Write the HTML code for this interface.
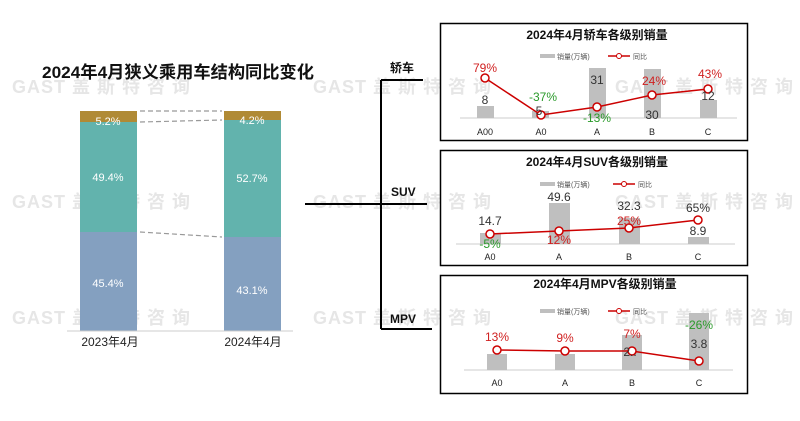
<!DOCTYPE html>
<html><head><meta charset="utf-8"><style>
html,body{margin:0;padding:0;background:#fff;width:800px;height:421px;overflow:hidden}
svg{display:block;font-family:"Liberation Sans","Noto Sans CJK SC",sans-serif}
.wm{fill:#e6e6e6;font-size:18px;font-weight:bold}
.t{font-weight:bold;fill:#111}
.ax{font-size:9px;fill:#222}
.v{font-size:12px;fill:#333}
.r{font-size:12px;fill:#d02020}
.g{font-size:12px;fill:#2a9a2a}
.lg{font-size:7px;fill:#555}
</style></head><body>
<svg width="800" height="421" viewBox="0 0 800 421">
<!-- watermarks -->
<g class="wm">
<text x="12" y="93" textLength="178" lengthAdjust="spacing">GAST 盖 斯 特 咨 询</text>
<text x="12" y="208" textLength="178" lengthAdjust="spacing">GAST 盖 斯 特 咨 询</text>
<text x="12" y="324" textLength="178" lengthAdjust="spacing">GAST 盖 斯 特 咨 询</text>
<text x="313" y="93" textLength="178" lengthAdjust="spacing">GAST 盖 斯 特 咨 询</text>
<text x="313" y="208" textLength="178" lengthAdjust="spacing">GAST 盖 斯 特 咨 询</text>
<text x="313" y="324" textLength="178" lengthAdjust="spacing">GAST 盖 斯 特 咨 询</text>
<text x="615" y="93" textLength="178" lengthAdjust="spacing">GAST 盖 斯 特 咨 询</text>
<text x="615" y="208" textLength="178" lengthAdjust="spacing">GAST 盖 斯 特 咨 询</text>
<text x="615" y="324" textLength="178" lengthAdjust="spacing">GAST 盖 斯 特 咨 询</text>
</g>
<!-- left chart -->
<text class="t" x="42" y="78" font-size="17" textLength="272" lengthAdjust="spacingAndGlyphs">2024年4月狭义乘用车结构同比变化</text>
<rect x="80" y="111" width="57" height="11" fill="#b08a35"/>
<rect x="80" y="122" width="57" height="110" fill="#62b3ad"/>
<rect x="80" y="232" width="57" height="99" fill="#84a0c0"/>
<rect x="224" y="111" width="57" height="9" fill="#b08a35"/>
<rect x="224" y="120" width="57" height="117" fill="#62b3ad"/>
<rect x="224" y="237" width="57" height="94" fill="#84a0c0"/>
<g stroke="#999" stroke-dasharray="5,3" stroke-width="1.2">
<line x1="140" y1="111" x2="222" y2="111"/>
<line x1="140" y1="122" x2="222" y2="120"/>
<line x1="140" y1="232" x2="222" y2="237"/>
</g>
<line x1="67" y1="331" x2="293" y2="331" stroke="#ccc"/>
<g font-size="11" fill="#fff" text-anchor="middle">
<text x="108" y="125">5.2%</text><text x="108" y="181">49.4%</text><text x="108" y="287">45.4%</text>
<text x="252" y="124">4.2%</text><text x="252" y="182">52.7%</text><text x="252" y="294">43.1%</text>
</g>
<g font-size="12" fill="#222" text-anchor="middle">
<text x="110" y="346">2023年4月</text><text x="253" y="346">2024年4月</text>
</g>
<!-- bracket -->
<g stroke="#000" stroke-width="2" fill="none">
<line x1="305" y1="204" x2="427" y2="204"/>
<line x1="381" y1="80" x2="381" y2="329"/>
<line x1="381" y1="80" x2="423" y2="80"/>
<line x1="381" y1="329" x2="432" y2="329"/>
</g>
<g class="t" font-size="12">
<text x="390" y="72">轿车</text><text x="391" y="196">SUV</text><text x="390" y="323">MPV</text>
</g>
<!-- panel 1 -->
<rect x="440.5" y="23.5" width="307" height="117" fill="none" stroke="#000" stroke-width="1.5"/>
<text class="t" x="597" y="39" font-size="12" text-anchor="middle">2024年4月轿车各级别销量</text>
<rect x="540" y="54" width="15" height="4" fill="#bfbfbf"/><text class="lg" x="557" y="59">销量(万辆)</text>
<line x1="608" y1="56" x2="630" y2="56" stroke="#c00" stroke-width="1.5"/><circle cx="619" cy="56" r="2.5" fill="#fff" stroke="#c00"/><text class="lg" x="633" y="59">同比</text>
<line x1="460" y1="118" x2="737" y2="118" stroke="#ddd" stroke-width="1.5"/>
<g fill="#bfbfbf">
<rect x="477" y="106" width="17" height="12"/><rect x="532" y="111" width="17" height="7"/>
<rect x="589" y="68" width="17" height="50"/><rect x="644" y="69" width="17" height="49"/><rect x="700" y="100" width="17" height="18"/>
</g>
<polyline points="485,78 541,115 597,107 652,95 708,89" fill="none" stroke="#c00" stroke-width="1.5"/>
<g fill="#fff" stroke="#c00" stroke-width="1.5">
<circle cx="485" cy="78" r="4"/><circle cx="541" cy="115" r="4"/><circle cx="597" cy="107" r="4"/><circle cx="652" cy="95" r="4"/><circle cx="708" cy="89" r="4"/>
</g>
<g text-anchor="middle">
<text class="v" x="485" y="104">8</text><text class="v" x="539" y="115">5</text><text class="v" x="597" y="84">31</text><text class="v" x="652" y="119">30</text><text class="v" x="708" y="100">12</text>
<text class="r" x="485" y="72">79%</text><text class="g" x="543" y="101">-37%</text><text class="g" x="597" y="122">-13%</text><text class="r" x="654" y="85">24%</text><text class="r" x="710" y="78">43%</text>
</g>
<text class="ax" x="485" y="135" text-anchor="middle">A00</text><text class="ax" x="541" y="135" text-anchor="middle">A0</text><text class="ax" x="597" y="135" text-anchor="middle">A</text><text class="ax" x="652" y="135" text-anchor="middle">B</text><text class="ax" x="708" y="135" text-anchor="middle">C</text>
<!-- panel 2 -->
<rect x="440.5" y="150.5" width="307" height="115" fill="none" stroke="#000" stroke-width="1.5"/>
<text class="t" x="597" y="166" font-size="12" text-anchor="middle">2024年4月SUV各级别销量</text>
<rect x="540" y="182" width="15" height="4" fill="#bfbfbf"/><text class="lg" x="557" y="187">销量(万辆)</text>
<line x1="613" y1="184" x2="635" y2="184" stroke="#c00" stroke-width="1.5"/><circle cx="624" cy="184" r="2.5" fill="#fff" stroke="#c00"/><text class="lg" x="638" y="187">同比</text>
<line x1="456" y1="244" x2="735" y2="244" stroke="#ddd" stroke-width="1.5"/>
<g fill="#bfbfbf">
<rect x="480" y="233" width="21" height="11"/><rect x="549" y="203" width="21" height="41"/><rect x="619" y="218" width="21" height="26"/><rect x="688" y="237" width="21" height="7"/>
</g>
<polyline points="490,234 559,231 629,228 698,220" fill="none" stroke="#c00" stroke-width="1.5"/>
<g fill="#fff" stroke="#c00" stroke-width="1.5"><circle cx="490" cy="234" r="4"/><circle cx="559" cy="231" r="4"/><circle cx="629" cy="228" r="4"/><circle cx="698" cy="220" r="4"/></g>
<g text-anchor="middle">
<text class="v" x="490" y="225">14.7</text><text class="v" x="559" y="201">49.6</text><text class="v" x="629" y="210">32.3</text><text class="v" x="698" y="235">8.9</text>
<text class="g" x="490" y="248">-5%</text><text class="r" x="559" y="244">12%</text><text class="r" x="629" y="225">25%</text><text class="v" x="698" y="212">65%</text>
</g>
<text class="ax" x="490" y="260" text-anchor="middle">A0</text><text class="ax" x="559" y="260" text-anchor="middle">A</text><text class="ax" x="629" y="260" text-anchor="middle">B</text><text class="ax" x="698" y="260" text-anchor="middle">C</text>
<!-- panel 3 -->
<rect x="440.5" y="275.5" width="307" height="118" fill="none" stroke="#000" stroke-width="1.5"/>
<text class="t" x="605" y="288" font-size="12" text-anchor="middle">2024年4月MPV各级别销量</text>
<rect x="540" y="309" width="15" height="4" fill="#bfbfbf"/><text class="lg" x="557" y="314">销量(万辆)</text>
<line x1="608" y1="311" x2="630" y2="311" stroke="#c00" stroke-width="1.5"/><circle cx="619" cy="311" r="2.5" fill="#fff" stroke="#c00"/><text class="lg" x="633" y="314">同比</text>
<line x1="464" y1="370" x2="733" y2="370" stroke="#ddd" stroke-width="1.5"/>
<g fill="#bfbfbf">
<rect x="487" y="354" width="20" height="16"/><rect x="555" y="354" width="20" height="16"/><rect x="622" y="335" width="20" height="35"/><rect x="689" y="313" width="20" height="57"/>
</g>
<polyline points="497,350 565,351 632,351 699,361" fill="none" stroke="#c00" stroke-width="1.5"/>
<g fill="#fff" stroke="#c00" stroke-width="1.5"><circle cx="497" cy="350" r="4"/><circle cx="565" cy="351" r="4"/><circle cx="632" cy="351" r="4"/><circle cx="699" cy="361" r="4"/></g>
<g text-anchor="middle">
<text class="r" x="497" y="341">13%</text><text class="r" x="565" y="342">9%</text><text class="r" x="632" y="338">7%</text><text class="g" x="699" y="329">-26%</text>
<text class="v" x="699" y="348">3.8</text><text class="v" x="630" y="356">2..</text>
</g>
<text class="ax" x="497" y="386" text-anchor="middle">A0</text><text class="ax" x="565" y="386" text-anchor="middle">A</text><text class="ax" x="632" y="386" text-anchor="middle">B</text><text class="ax" x="699" y="386" text-anchor="middle">C</text>
</svg>
</body></html>
